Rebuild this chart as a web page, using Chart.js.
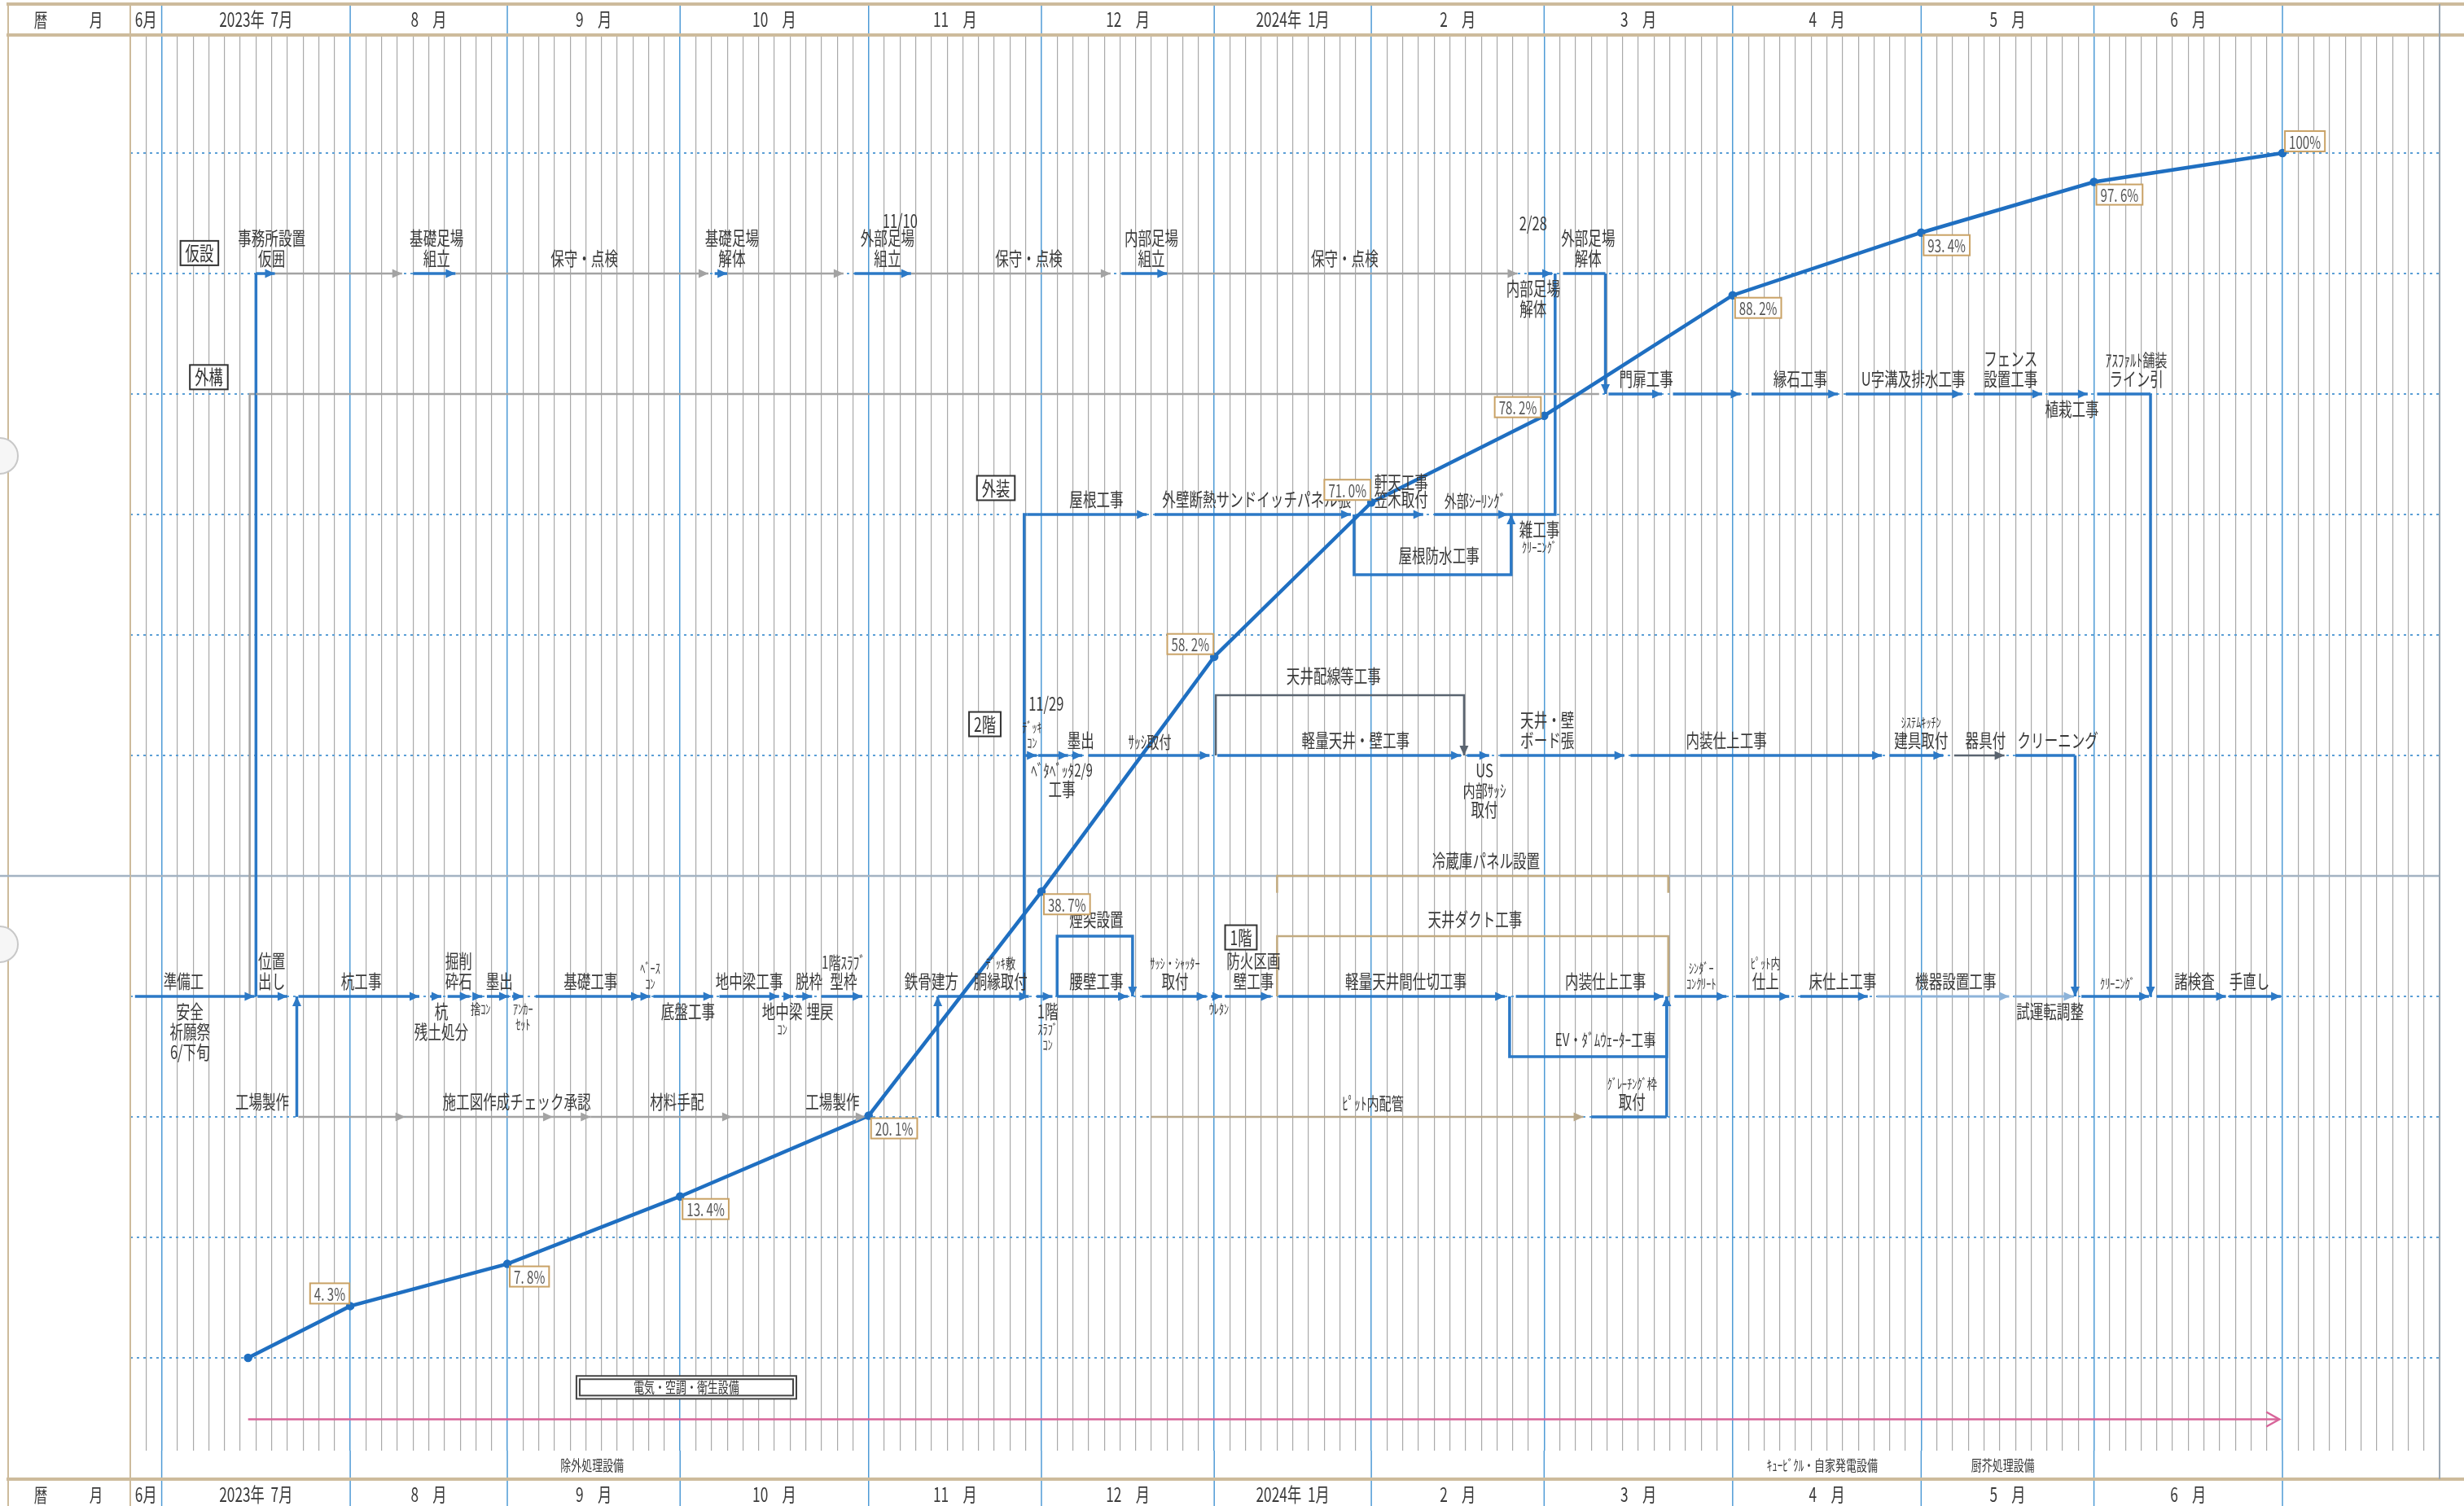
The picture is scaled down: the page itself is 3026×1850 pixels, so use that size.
<!DOCTYPE html>
<html lang="ja">
<head>
<meta charset="utf-8">
<title>工程表</title>
<script src="https://cdn.jsdelivr.net/npm/chart.js@4.4.1/dist/chart.umd.min.js"></script>
<style>
  html, body { margin: 0; padding: 0; background: #fff; }
  #box { width: 3026px; height: 1850px; }
</style>
</head>
<body>
<div id="box"><canvas id="koutei" width="3026" height="1850"></canvas></div>
<script>
// 月の区切り（1セル = 縦の細線1本分）
const monthEdges = [0, 2, 14, 24, 35, 47, 58, 69, 79, 90, 102, 114, 125, 137, 147];
const monthNames = ['6月', '2023年  7月', '8　月', '9　月', '10　月', '11　月', '12　月', '2024年  1月', '2　月', '3　月', '4　月', '5　月', '6　月', ''];
const pctTicks = [0, 10, 20, 30, 40, 50, 60, 70, 80, 90, 100];
const cellTicks = Array.from({ length: 148 }, (_, i) => i);

// 進捗率（出来高曲線）
const progressX = [7.5, 14, 24, 35, 47, 58, 69, 79, 90, 102, 114, 125, 137];
const progressY = [0, 4.3, 7.8, 13.4, 20.1, 38.7, 58.2, 71.0, 78.2, 88.2, 93.4, 97.6, 100];
const progressText = ['', '4. 3%', '7. 8%', '13. 4%', '20. 1%', '38. 7%', '58. 2%', '71. 0%', '78. 2%', '88. 2%', '93. 4%', '97. 6%', '100%'];
const progressTag = ['', 'lt', 'rb', 'rb', 'rb', 'rb', 'lt', 'lt', 'l', 'rb', 'rb', 'rb', 'rt'];

// 行（縦位置 %）
const rowKasetsu = 90, rowGaikou = 80, rowGaisou = 70, row2F = 50, row1F = 30, rowFactory = 20;

// 作業矢線 [開始, 終了, 種類]  B=青矢 b=青線 G=灰矢 g=灰線 K=濃灰矢 L=淡青矢 T=茶矢
const kasetsuBars = [
  [8, 9.2, 'B'], [9.2, 17.3, 'G'], [18, 20.7, 'B'], [20.7, 36.8, 'G'], [37.2, 38, 'B'],
  [38, 45.4, 'G'], [46.1, 49.7, 'B'], [49.7, 62.4, 'G'], [63.1, 66, 'B'], [66, 88.3, 'G'],
  [89, 90.5, 'B'], [91.2, 93.9, 'b']
];
const gaikouBars = [
  [8, 93.5, 'g'], [94.1, 97.5, 'B'], [98.2, 102.5, 'B'], [103.2, 108.7, 'B'], [109.2, 116.6, 'B'],
  [117.4, 121.7, 'B'], [122.1, 124.6, 'B'], [125.2, 128.6, 'b']
];
const gaisouBars = [
  [57.1, 64.7, 'B'], [65.2, 77.7, 'B'], [78.2, 82.3, 'B'], [83, 87.7, 'B']
];
const floor2Bars = [
  [56.9, 57.7, 'B'], [57.8, 59.7, 'B'], [59.9, 60.6, 'B'], [61, 68.7, 'B'], [69.2, 84.7, 'B'],
  [85.1, 86.5, 'B'], [87.2, 95.1, 'B'], [95.5, 111.5, 'B'], [112, 115.4, 'B'], [116.1, 119.3, 'K'],
  [120, 123.8, 'b']
];
const floor1Bars = [
  [0.3, 7.9, 'B'], [8.1, 10, 'B'], [10.7, 18.4, 'B'], [19.1, 19.8, 'B'], [20.2, 21.6, 'B'],
  [21.9, 22.4, 'B'], [22.7, 24.1, 'B'], [24.3, 25, 'B'], [25.8, 32.5, 'B'], [32.6, 33.1, 'B'],
  [33.3, 37.1, 'B'], [37.5, 41.3, 'B'], [41.6, 42.2, 'B'], [42.4, 43.4, 'B'], [44, 46.6, 'B'],
  [51.4, 57.2, 'B'], [57.7, 58.7, 'B'], [59, 63.5, 'B'], [64.4, 68.5, 'B'], [68.8, 69.5, 'B'],
  [69.7, 72.6, 'B'], [73.1, 87.5, 'B'], [88.2, 97.6, 'B'], [98.3, 101.6, 'B'], [102.2, 105.6, 'B'],
  [106.3, 110.6, 'B'], [111.2, 119.6, 'L'], [119.9, 123.7, 'L'], [124.2, 128.5, 'B'], [129, 133.4, 'B'],
  [133.6, 136.9, 'B']
];
const factoryBars = [
  [10.7, 17.5, 'G'], [17.5, 26.9, 'G'], [26.9, 29.3, 'G'], [29.3, 38.3, 'G'], [38.3, 46.8, 'G'],
  [65, 92.5, 'T'], [93, 97.8, 'b']
];

// つなぎ線 [種類, 点...]
const links = [
  ['b', [8, 30], [8, 90]],
  ['g', [7.6, 30], [7.6, 80], [8, 80]],
  ['B', [10.6, 20], [10.6, 30]],
  ['B', [51.4, 20], [51.4, 30]],
  ['b', [56.9, 30], [56.9, 70], [57.1, 70]],
  ['B', [59, 30], [59, 35], [63.8, 35], [63.8, 30]],
  ['K', [69.1, 50], [69.1, 55], [84.9, 55], [84.9, 50]],
  ['B', [77.9, 70], [77.9, 65], [87.9, 65], [87.9, 70]],
  ['b', [87.7, 70], [90.7, 70], [90.7, 90]],
  ['B', [93.9, 90], [93.9, 80]],
  ['t', [73, 30], [73, 35], [97.9, 35], [97.9, 30]],
  ['t', [73, 38.6], [73, 40], [97.9, 40], [97.9, 38.6]],
  ['B', [87.8, 30], [87.8, 25], [97.8, 25], [97.8, 30]],
  ['B', [97.8, 20], [97.8, 30]],
  ['B', [123.8, 50], [123.8, 30]],
  ['B', [128.6, 80], [128.6, 30]]
];

// 作業名 [x, y, 文字, 位置]  a=線の上 b=線の下 c=中心
const taskLabels = [
  [9, 90, '事務所設置\n仮囲', 'a'], [19.5, 90, '基礎足場\n組立', 'a'], [28.9, 90, '保守・点検', 'a'],
  [38.3, 90, '基礎足場\n解体', 'a'], [49, 94.4, '11/10', 'c'], [48.2, 90, '外部足場\n組立', 'a'],
  [57.2, 90, '保守・点検', 'a'], [65, 90, '内部足場\n組立', 'a'], [77.3, 90, '保守・点検', 'a'],
  [89.3, 94.2, '2/28', 'c'], [92.8, 90, '外部足場\n解体', 'a'], [89.3, 90, '内部足場\n解体', 'b'],

  [96.5, 80, '門扉工事', 'a'], [106.3, 80, '縁石工事', 'a'], [113.5, 80, 'U字溝及排水工事', 'a'],
  [119.7, 80, 'フェンス\n設置工事', 'a'], [123.6, 80, '植栽工事', 'b'], [127.7, 80, 'ｱｽﾌｧﾙﾄ舗装\nライン引', 'a'],

  [61.5, 70, '屋根工事', 'a'], [71.7, 70, '外壁断熱サンドイッチパネル張', 'a'], [80.9, 72.7, '軒天工事', 'c'],
  [80.9, 70, '笠木取付', 'a'], [85.6, 70, '外部ｼｰﾘﾝｸﾞ', 'a'], [83.3, 66.6, '屋根防水工事', 'c'],
  [89.7, 70, '雑工事\nｸﾘｰﾆﾝｸﾞ', 'b'],

  [58.3, 54.3, '11/29', 'c'], [57.4, 50, 'ﾃﾞｯｷ\nｺﾝ', 'a'], [60.5, 50, '墨出', 'a'], [64.9, 50, 'ｻｯｼ取付', 'a'],
  [78, 50, '軽量天井・壁工事', 'a'], [76.6, 56.6, '天井配線等工事', 'c'], [59.3, 50, 'ﾍﾞﾀﾍﾞｯﾀ2/9\n工事', 'b'],
  [86.2, 50, 'US\n内部ｻｯｼ\n取付', 'b'], [90.2, 50, '天井・壁\nボード張', 'a'], [101.6, 50, '内装仕上工事', 'a'],
  [114, 50, 'ｼｽﾃﾑｷｯﾁﾝ\n建具取付', 'a'], [118.1, 50, '器具付', 'a'], [122.7, 50, 'クリーニング', 'a'],

  [3.4, 30, '準備工', 'a'], [3.8, 30, '安全\n祈願祭\n6/下旬', 'b'], [9, 30, '位置\n出し', 'a'],
  [14.7, 30, '杭工事', 'a'], [19.8, 30, '杭\n残土処分', 'b'], [20.9, 30, '掘削\n砕石', 'a'],
  [22.3, 30, '捨ｺﾝ', 'b'], [23.5, 30, '墨出', 'a'], [25, 30, 'ｱﾝｶｰ\nｾｯﾄ', 'b'], [29.3, 30, '基礎工事', 'a'],
  [33.1, 30, 'ﾍﾞｰｽ\nｺﾝ', 'a'], [35.5, 30, '底盤工事', 'b'], [39.4, 30, '地中梁工事', 'a'], [43.2, 30, '脱枠', 'a'],
  [41.5, 30, '地中梁\nｺﾝ', 'b'], [43.9, 30, '埋戻', 'b'], [45.4, 30, '1階ｽﾗﾌﾞ\n型枠', 'a'],
  [51, 30, '鉄骨建方', 'a'], [55.4, 30, 'ﾃﾞｯｷ敷\n胴縁取付', 'a'], [58.4, 30, '1階\nｽﾗﾌﾞ\nｺﾝ', 'b'],
  [61.5, 30, '腰壁工事', 'a'], [61.5, 36.4, '煙突設置', 'c'], [66.5, 30, 'ｻｯｼ・ｼｬｯﾀｰ\n取付', 'a'],
  [69.3, 30, 'ｳﾚﾀﾝ', 'b'], [71.5, 30, '防火区画\n壁工事', 'a'], [81.2, 30, '軽量天井間仕切工事', 'a'],
  [93.9, 30, '内装仕上工事', 'a'], [85.6, 36.4, '天井ダクト工事', 'c'], [86.3, 41.3, '冷蔵庫パネル設置', 'c'],
  [93.9, 26.4, 'EV・ﾀﾞﾑｳｪｰﾀｰ工事', 'c'], [100, 30, 'ｼﾝﾀﾞｰ\nｺﾝｸﾘｰﾄ', 'a'], [104.1, 30, 'ﾋﾟｯﾄ内\n仕上', 'a'],
  [109, 30, '床仕上工事', 'a'], [116.2, 30, '機器設置工事', 'a'], [122.2, 30, '試運転調整', 'b'],
  [126.5, 30, 'ｸﾘｰﾆﾝｸﾞ', 'a'], [131.4, 30, '諸検査', 'a'], [134.9, 30, '手直し', 'a'],

  [8.4, 20, '工場製作', 'a'], [24.6, 20, '施工図作成チェック承認', 'a'], [34.8, 20, '材料手配', 'a'],
  [44.7, 20, '工場製作', 'a'], [79.1, 20, 'ﾋﾟｯﾄ内配管', 'a'], [95.6, 20, 'ｸﾞﾚｰﾁﾝｸﾞ枠\n取付', 'a']
];

// 区分名
const sectionTags = [
  [4.4, 91.7, '仮設'], [5, 81.4, '外構'], [55.1, 72.2, '外装'], [54.4, 52.6, '2階'], [70.7, 34.9, '1階']
];

// 設備
const equipBox = [28.4, 42.4, -1.5, -3.4, '電気・空調・衛生設備'];
const equipArrow = [7.5, 136.8, -5.1];
const footNotes = [[29.4, '除外処理設備'], [107.7, 'ｷｭｰﾋﾞｸﾙ・自家発電設備'], [119.2, '厨芥処理設備']];

const FONT = '"Noto Sans CJK JP", "Noto Sans", sans-serif';
const INK = '#3a3a3a';
const kindStyle = {
  B: { color: '#2c79c6', width: 3.5, arrow: true },
  b: { color: '#2c79c6', width: 3.5, arrow: false },
  G: { color: '#a3a3a3', width: 2.5, arrow: true },
  g: { color: '#a3a3a3', width: 2.5, arrow: false },
  K: { color: '#5a6470', width: 2.5, arrow: true },
  L: { color: '#8db3d9', width: 3, arrow: true },
  T: { color: '#b9a88a', width: 2.5, arrow: true },
  t: { color: '#c2ab80', width: 2.5, arrow: false }
};

function lineDataset(points, kind) {
  const st = kindStyle[kind];
  return {
    data: points.map(p => ({ x: p[0], y: p[1] })),
    borderColor: st.color,
    backgroundColor: st.color,
    borderWidth: st.width,
    pointRadius: 0,
    arrowEnd: st.arrow,
    order: 2
  };
}

const datasets = [{
  data: progressX.map((x, i) => ({ x: x, y: progressY[i] })),
  borderColor: '#1f6fc1',
  backgroundColor: '#1f6fc1',
  borderWidth: 4.5,
  pointRadius: 3,
  order: 0
}, {
  data: [{ x: 0, y: 40 }, { x: 147, y: 40 }],
  borderColor: '#a3b3c2',
  borderWidth: 2.5,
  pointRadius: 0,
  order: 3
}];

[[kasetsuBars, rowKasetsu], [gaikouBars, rowGaikou], [gaisouBars, rowGaisou],
 [floor2Bars, row2F], [floor1Bars, row1F], [factoryBars, rowFactory]].forEach(([bars, r]) => {
  bars.forEach(b => datasets.push(lineDataset([[b[0], r], [b[1], r]], b[2])));
});
links.forEach(l => datasets.push(lineDataset(l.slice(1), l[0])));
datasets.push({
  data: [{ x: equipArrow[0], y: equipArrow[2] }, { x: equipArrow[1], y: equipArrow[2] }],
  borderColor: '#d8659a',
  borderWidth: 2.5,
  pointRadius: 0,
  openArrow: true,
  order: 2
});

function drawText(ctx, s, x, y, size, color) {
  ctx.save();
  ctx.font = size + 'px ' + FONT;
  ctx.fillStyle = color || INK;
  ctx.textAlign = 'center';
  ctx.textBaseline = 'middle';
  ctx.translate(x, y);
  ctx.scale(0.72, 1);
  ctx.fillText(s, 0, 0);
  ctx.restore();
}
function textWidth(ctx, s, size) {
  ctx.save();
  ctx.font = size + 'px ' + FONT;
  const w = ctx.measureText(s).width * 0.72;
  ctx.restore();
  return w;
}
function lineSize(s) {
  const han = (s.match(/[\uFF61-\uFF9F]/g) || []).length;
  if (han === 0) return 23;
  return han >= s.length - 1 ? 17 : 21;
}

const paper = {
  id: 'paper',
  beforeDraw(chart) {
    const ctx = chart.ctx;
    ctx.save();
    ctx.fillStyle = '#fff';
    ctx.fillRect(0, 0, chart.width, chart.height);
    ctx.restore();
  },
  afterDatasetsDraw(chart) {
    const ctx = chart.ctx;
    const X = v => chart.scales.x.getPixelForValue(v);
    const Y = v => chart.scales.y.getPixelForValue(v);

    // 矢印
    chart.data.datasets.forEach((ds, i) => {
      if (!ds.arrowEnd && !ds.openArrow) return;
      const pts = chart.getDatasetMeta(i).data;
      const p1 = pts[pts.length - 1], p0 = pts[pts.length - 2];
      const a = Math.atan2(p1.y - p0.y, p1.x - p0.x);
      ctx.save();
      ctx.translate(p1.x, p1.y);
      ctx.rotate(a);
      ctx.beginPath();
      if (ds.openArrow) {
        ctx.moveTo(-16, -9); ctx.lineTo(0, 0); ctx.lineTo(-16, 9);
        ctx.strokeStyle = ds.borderColor; ctx.lineWidth = 2.5; ctx.stroke();
      } else {
        ctx.moveTo(0, 0); ctx.lineTo(-12, -5.5); ctx.lineTo(-12, 5.5); ctx.closePath();
        ctx.fillStyle = ds.borderColor; ctx.fill();
      }
      ctx.restore();
    });

    // 作業名
    taskLabels.forEach(([x, y, text, place]) => {
      const lines = text.split('\n');
      const sizes = lines.map(lineSize);
      const lh = sizes.map(s => s + 2);
      const h = lh.reduce((a, b) => a + b, 0);
      let top;
      if (place === 'a') top = Y(y) - 6 - h;
      else if (place === 'b') top = Y(y) + 6;
      else top = Y(y) - h / 2;
      lines.forEach((ln, k) => {
        drawText(ctx, ln, X(x), top + lh[k] / 2, sizes[k]);
        top += lh[k];
      });
    });

    // 区分名（枠付）
    sectionTags.forEach(([x, y, t]) => {
      const w = textWidth(ctx, t, 24) + 12;
      ctx.save();
      ctx.fillStyle = '#fff';
      ctx.fillRect(X(x) - w / 2, Y(y) - 15, w, 30);
      ctx.strokeStyle = '#333'; ctx.lineWidth = 2;
      ctx.strokeRect(X(x) - w / 2, Y(y) - 15, w, 30);
      ctx.restore();
      drawText(ctx, t, X(x), Y(y), 24, '#333');
    });

    // 進捗率ラベル
    const meta = chart.getDatasetMeta(0);
    progressText.forEach((t, i) => {
      if (!t) return;
      const p = meta.data[i];
      const w = textWidth(ctx, t, 21) + 10, h = 25;
      let bx, by;
      switch (progressTag[i]) {
        case 'lt': bx = p.x - w - 1; by = p.y - h - 3; break;
        case 'l': bx = p.x - w - 4; by = p.y - h + 2; break;
        case 'rt': bx = p.x + 3; by = p.y - h - 2; break;
        default: bx = p.x + 3; by = p.y + 3;
      }
      ctx.save();
      ctx.fillStyle = '#fff'; ctx.fillRect(bx, by, w, h);
      ctx.strokeStyle = '#c9a266'; ctx.lineWidth = 2; ctx.strokeRect(bx, by, w, h);
      ctx.restore();
      drawText(ctx, t, bx + w / 2, by + h / 2 + 1, 21, '#555');
    });

    // 設備枠
    const [e0, e1, eTop, eBot, eText] = equipBox;
    ctx.save();
    ctx.fillStyle = '#fff';
    ctx.fillRect(X(e0), Y(eTop), X(e1) - X(e0), Y(eBot) - Y(eTop));
    ctx.strokeStyle = '#444'; ctx.lineWidth = 2;
    ctx.strokeRect(X(e0), Y(eTop), X(e1) - X(e0), Y(eBot) - Y(eTop));
    ctx.strokeRect(X(e0) + 4, Y(eTop) + 4, X(e1) - X(e0) - 8, Y(eBot) - Y(eTop) - 8);
    ctx.restore();
    drawText(ctx, eText, (X(e0) + X(e1)) / 2, (Y(eTop) + Y(eBot)) / 2, 18, '#333');
  },
  afterDraw(chart) {
    const ctx = chart.ctx;
    const X = v => chart.scales.x.getPixelForValue(v);
    const area = chart.chartArea;
    const tan = '#cdbb9c';

    ctx.save();
    // 月の青線（表題欄・下欄）
    ctx.strokeStyle = '#4f9bd6'; ctx.lineWidth = 1.5;
    monthEdges.slice(1, -1).forEach(m => {
      ctx.beginPath(); ctx.moveTo(X(m), 5); ctx.lineTo(X(m), area.top); ctx.stroke();
      ctx.beginPath(); ctx.moveTo(X(m), area.bottom); ctx.lineTo(X(m), 1850); ctx.stroke();
    });
    // 枠線
    ctx.strokeStyle = tan; ctx.lineWidth = 4;
    [5, area.top, 1817].forEach(y => {
      ctx.beginPath(); ctx.moveTo(8, y); ctx.lineTo(3026, y); ctx.stroke();
    });
    ctx.lineWidth = 2;
    [10, area.left].forEach(x => {
      ctx.beginPath(); ctx.moveTo(x, 5); ctx.lineTo(x, 1850); ctx.stroke();
    });
    ctx.strokeStyle = '#9aa6b2'; ctx.lineWidth = 2;
    ctx.beginPath(); ctx.moveTo(area.right, 5); ctx.lineTo(area.right, 1817); ctx.stroke();
    // 40%行の左余白部分
    ctx.strokeStyle = '#a3b3c2'; ctx.lineWidth = 2.5;
    const y40 = chart.scales.y.getPixelForValue(40);
    ctx.beginPath(); ctx.moveTo(0, y40); ctx.lineTo(area.left, y40); ctx.stroke();
    // パンチ穴
    ctx.strokeStyle = '#c8c8c8'; ctx.fillStyle = '#f6f6f6'; ctx.lineWidth = 2;
    [560, 1160].forEach(y => {
      ctx.beginPath(); ctx.arc(0, y, 22, -Math.PI / 2, Math.PI / 2); ctx.fill(); ctx.stroke();
    });
    ctx.restore();

    // 暦・月
    [24, 1836].forEach(y => {
      drawText(ctx, '暦', 50, y, 23);
      drawText(ctx, '月', 118, y, 23);
      monthNames.forEach((n, i) => {
        if (!n) return;
        drawText(ctx, n, (X(monthEdges[i]) + X(monthEdges[i + 1])) / 2, y, 24);
      });
    });
    footNotes.forEach(([x, t]) => drawText(ctx, t, X(x), 1800, 18));
  }
};

new Chart(document.getElementById('koutei'), {
  type: 'line',
  data: { datasets: datasets },
  options: {
    responsive: false,
    devicePixelRatio: 1,
    animation: false,
    events: [],
    layout: { padding: { left: 160, top: 43, right: 30, bottom: 68 } },
    plugins: { legend: { display: false }, tooltip: { enabled: false } },
    elements: { line: { tension: 0 } },
    scales: {
      x: {
        type: 'linear', min: 0, max: 147,
        afterBuildTicks: axis => { axis.ticks = cellTicks.map(v => ({ value: v })); },
        ticks: { display: false },
        border: { display: false },
        grid: {
          drawTicks: false,
          color: c => monthEdges.includes(c.tick.value) ? '#4f9bd6' : '#a9a9a9',
          lineWidth: c => monthEdges.includes(c.tick.value) ? 1.5 : 1.2
        }
      },
      y: {
        type: 'linear', min: -7.7, max: 109.8,
        afterBuildTicks: axis => { axis.ticks = pctTicks.map(v => ({ value: v })); },
        ticks: { display: false },
        border: { display: false, dash: [3, 5] },
        grid: { drawTicks: false, color: '#5b9fd6', lineWidth: 2 }
      }
    }
  },
  plugins: [paper]
});
</script>
</body>
</html>
